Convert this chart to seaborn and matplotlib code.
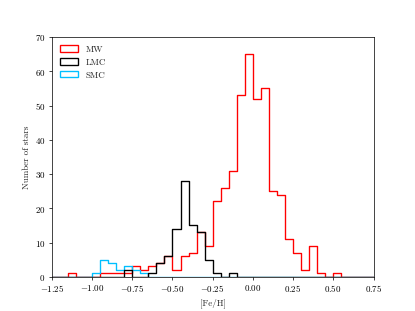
import numpy as np
import pandas as pd
import matplotlib
matplotlib.use("Agg")
import matplotlib.pyplot as plt
from matplotlib.patches import Patch
import seaborn as sns

# ---- data (bin left edges, width 0.05) ----
bin_edges = [round(v, 2) for v in np.arange(-1.25, 0.7501, 0.05)]

mw_left = [-1.15, -0.95, -0.90, -0.85, -0.80, -0.75, -0.70, -0.65, -0.60, -0.55,
           -0.50, -0.45, -0.40, -0.35, -0.30, -0.25, -0.20, -0.15, -0.10, -0.05,
           0.00, 0.05, 0.10, 0.15, 0.20, 0.25, 0.30, 0.35, 0.40, 0.50]
mw_counts = [1, 1, 1, 1, 1, 3, 2, 3, 4, 6,
             2, 6, 7, 13, 9, 22, 26, 31, 53, 65,
             52, 55, 25, 24, 11, 7, 2, 9, 1, 1]

lmc_left = [-0.80, -0.65, -0.60, -0.55, -0.50, -0.45, -0.40, -0.35, -0.30, -0.25, -0.15]
lmc_counts = [2, 1, 4, 6, 14, 28, 15, 13, 5, 1, 1]

smc_left = [-1.00, -0.95, -0.90, -0.85, -0.80, -0.75, -0.70]
smc_counts = [1, 5, 4, 2, 3, 2, 1]

labels = ["MW", "LMC", "SMC"]
colors = ["#ff0000", "#000000", "#00bfff"]

x_ticks = [-1.25, -1.00, -0.75, -0.50, -0.25, 0.00, 0.25, 0.50, 0.75]
y_ticks = [0, 10, 20, 30, 40, 50, 60, 70]

# ---- style ----
sns.set_style("ticks")
plt.rcParams["font.family"] = ["serif"]
plt.rcParams["font.serif"] = ["cmr10", "DejaVu Serif"]
plt.rcParams["mathtext.fontset"] = "cm"
plt.rcParams["axes.formatter.use_mathtext"] = True
plt.rcParams["axes.unicode_minus"] = True
plt.rcParams["axes.edgecolor"] = "black"
plt.rcParams["xtick.color"] = "black"
plt.rcParams["ytick.color"] = "black"

dpi = 415 / 6.4
fig, ax = plt.subplots(figsize=(6.4, 4.8), dpi=dpi)
fig.subplots_adjust(left=0.125, right=0.9, bottom=0.11, top=0.88)


def make_df(left, counts):
    full = {round(float(e), 2): 0 for e in bin_edges[:-1]}
    for l, c in zip(left, counts):
        full[round(float(l), 2)] = c
    centers = [k + 0.025 for k in full.keys()]
    return pd.DataFrame({"feh": centers, "n": list(full.values())})


datasets = {
    "MW": make_df(mw_left, mw_counts),
    "LMC": make_df(lmc_left, lmc_counts),
    "SMC": make_df(smc_left, smc_counts),
}
col_map = dict(zip(labels, colors))

for name in ["MW", "SMC", "LMC"]:
    df = datasets[name]
    sns.histplot(data=df, x="feh", weights="n", bins=bin_edges, element="step",
                 fill=False, color=col_map[name], linewidth=1.5, ax=ax)

ax.set_xlim(-1.25, 0.75)
ax.set_ylim(0, 70)
ax.set_xticks(x_ticks)
ax.set_yticks(y_ticks)
ax.set_xlabel("[Fe/H]")
ax.set_ylabel("Number of stars")
for s in ax.spines.values():
    s.set_visible(True)
    s.set_linewidth(0.8)

handles = [Patch(facecolor="none", edgecolor=c, linewidth=1.5) for c in colors]
ax.legend(handles, labels, loc="upper left", frameon=False)

fig.savefig("out.png", dpi=dpi)
